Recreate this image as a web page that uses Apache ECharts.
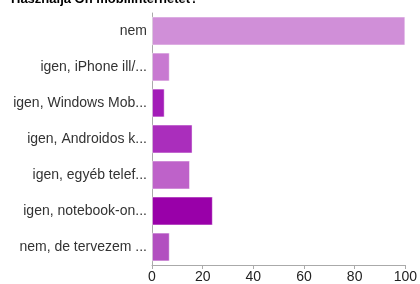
<!DOCTYPE html>
<html>
<head>
<meta charset="UTF-8">
<title>mobilinternet</title>
<script src="https://cdn.jsdelivr.net/npm/echarts@6/dist/echarts.min.js"></script>
<style>
  html, body { margin: 0; padding: 0; background: #fff; }
</style>
</head>
<body>
<div id="main" style="width:420px;height:284px"></div>
<script>
// categories top to bottom
var categories = ['nem', 'igen, iPhone ill/...', 'igen, Windows Mob...', 'igen, Androidos k...',
  'igen, egyéb telef...', 'igen, notebook-on...', 'nem, de tervezem ...'];
var values = [100, 7, 5, 16, 15, 24, 7];
var barColors = ['#d08fd8', '#c879d1', '#a31cb8', '#aa2ebc', '#be62c9', '#9900a9', '#b24fc0'];
var xTicks = [0, 20, 40, 60, 80, 100];

var chart = echarts.init(document.getElementById('main'));

var option = {
  animation: false,
  title: {
    text: 'Használja Ön mobilinternetet?',
    left: 6,
    top: -12,
    textStyle: { fontFamily: 'Liberation Sans', fontSize: 13, fontWeight: 'bold', color: '#000' }
  },
  grid: { left: 152, right: 14, top: 13, bottom: 16 },
  xAxis: {
    type: 'value',
    min: xTicks[0],
    max: xTicks[xTicks.length - 1],
    interval: 20,
    splitLine: { show: false },
    axisLine: { show: true, lineStyle: { color: '#aaa' } },
    axisTick: { show: true, length: 4, lineStyle: { color: '#aaa' } },
    axisLabel: { margin: 5, fontFamily: 'Liberation Sans', fontSize: 14, color: '#222' }
  },
  yAxis: {
    type: 'category',
    inverse: true,
    data: categories,
    axisLine: { lineStyle: { color: '#aaa' } },
    axisTick: { length: 4, alignWithLabel: true, lineStyle: { color: '#aaa' } },
    axisLabel: { margin: 5, fontFamily: 'Liberation Sans', fontSize: 14, color: '#333' }
  },
  series: [{
    type: 'bar',
    barCategoryGap: '20%',
    data: values.map(function (v, i) {
      return {
        value: v,
        itemStyle: { color: barColors[i], borderColor: 'rgba(255,255,255,0.45)', borderWidth: 1 }
      };
    })
  }]
};

chart.setOption(option);
</script>
</body>
</html>
